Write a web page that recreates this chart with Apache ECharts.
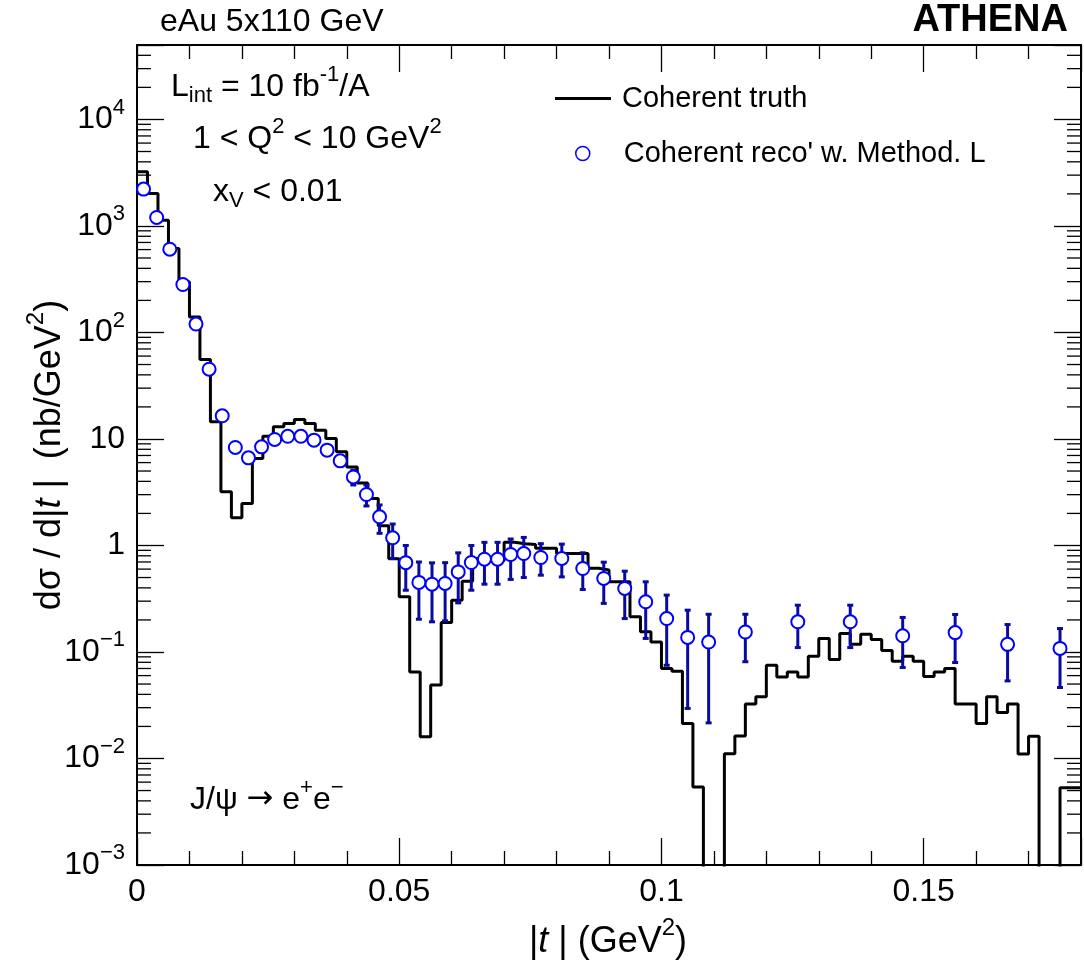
<!DOCTYPE html>
<html><head><meta charset="utf-8">
<script src="https://cdn.jsdelivr.net/npm/echarts@6/dist/echarts.min.js"></script>
<style>html,body{margin:0;padding:0;background:#fff}#c{width:1084px;height:965px}</style>
</head><body><div id="c"></div>
<script>
// ---------- data ----------
const tMin = 0, tMax = 0.18;
const yMin = 1e-3, yMax = 5e4;
const xTickInterval = 0.05;
const truthBinWidth = 0.002;   // truth histogram bins from t = 0
const truthValues = [
  3220, 2020, 1133, 615, 299, 140, 55.7, 14.5, 3.19, 1.82,
  2.48, 6.56, 10.6, 13.0, 14.0, 15.2, 14.0, 12.1, 10.1, 7.57,
  5.47, 3.87, 2.76, 1.53, 0.75, 0.33, 0.065, 0.016, 0.049, 0.189,
  0.306, 0.462, 0.755, 0.74, 0.72, 1.07, 1.04, 1.02, 0.94, 0.94,
  0.84, 0.84, 0.84, 0.61, 0.59, 0.456, 0.456, 0.214, 0.155, 0.124,
  0.070, 0.066, 0.0213, 0.0054, 0, 0, 0.0111, 0.0163, 0.0324, 0.0379,
  0.0752, 0.0583, 0.065, 0.0583, 0.0914, 0.134, 0.085, 0.149, 0.118, 0.147,
  0.131, 0.103, 0.082, 0.091, 0.082, 0.059, 0.065, 0.070, 0.0324, 0.0324,
  0.0213, 0.038, 0.027, 0.0324, 0.011, 0.0162, 0, 0, 0.0053, 0.0053
];
const recoT = [
  0.00125, 0.00375, 0.00625, 0.00875, 0.01125, 0.01375, 0.01625, 0.01875, 0.02125, 0.02375,
  0.02625, 0.02875, 0.03125, 0.03375, 0.03625, 0.03875, 0.04125, 0.04375, 0.04625, 0.04875,
  0.05125, 0.05375, 0.05625, 0.05875, 0.06125, 0.06375, 0.06625, 0.06875, 0.07125, 0.07375,
  0.077, 0.081, 0.085, 0.089, 0.093, 0.097, 0.101, 0.105, 0.109,
  0.116, 0.126, 0.136, 0.146, 0.156, 0.166, 0.176
];
const recoValues = [
  2218, 1202, 605, 282, 120, 45.2, 16.5, 8.32, 6.65, 8.43,
  9.89, 10.6, 10.6, 9.75, 7.85, 6.23, 4.40, 3.01, 1.86, 1.18,
  0.69, 0.45, 0.433, 0.44, 0.565, 0.692, 0.743, 0.743, 0.823, 0.84,
  0.771, 0.755, 0.608, 0.49, 0.395, 0.296, 0.206, 0.137, 0.124,
  0.154, 0.192, 0.192, 0.142, 0.152, 0.118, 0.108
];
const recoLow = [
  2150, 1160, 580, 270, 114, 42.5, 15.3, 7.5, 6.0, 7.8,
  9.3, 10.0, 10.0, 9.1, 7.2, 5.6, 3.7, 2.35, 1.3, 0.755,
  0.38, 0.203, 0.192, 0.196, 0.289, 0.38, 0.433, 0.433, 0.48, 0.50,
  0.526, 0.507, 0.386, 0.286, 0.206, 0.134, 0.075, 0.0295, 0.0216,
  0.081, 0.110, 0.110, 0.0715, 0.0797, 0.0535, 0.0464
];
const recoHigh = [
  2290, 1245, 630, 295, 126, 48, 17.7, 9.2, 7.3, 9.1,
  10.5, 11.2, 11.2, 10.4, 8.5, 6.9, 5.1, 3.7, 2.4, 1.59,
  1.0, 0.70, 0.687, 0.69, 0.853, 1.0, 1.07, 1.07, 1.15, 1.19,
  1.04, 1.03, 0.853, 0.697, 0.574, 0.456, 0.342, 0.247, 0.226,
  0.226, 0.275, 0.275, 0.211, 0.225, 0.181, 0.166
];
const truthName = 'Coherent truth';
const recoName = "Coherent reco' w. Method. L";

// ---------- styling / building ----------
const FF = "'Liberation Sans', Arial, Helvetica, sans-serif";
const BLUE = '#0000ff', ERR = '#0a0a9e';

// step-histogram points: left edge of every bin + final right edge; empty bins go below the axis floor
const floorVal = yMin * 1e-4;
const truthPoints = truthValues.map((v, i) => [i * truthBinWidth, v > 0 ? v : floorVal]);
truthPoints.push([truthValues.length * truthBinWidth, truthValues[truthValues.length - 1] || floorVal]);

const recoPoints = recoT.map((t, i) => [t, recoValues[i]]);
const errPoints = recoT.map((t, i) => [t, recoLow[i], recoHigh[i]]);

// log-axis minor tick positions (2..9 x 10^n)
const minorY = [];
for (let e = Math.round(Math.log10(yMin)); e <= Math.ceil(Math.log10(yMax)); e++) {
  for (let m = 2; m <= 9; m++) { const v = m * Math.pow(10, e); if (v > yMin && v < yMax) minorY.push([tMin, v]); }
}

function richSet(fs) {
  return {
    n: { fontSize: fs, fontFamily: FF, fill: '#000' },
    i: { fontSize: fs, fontFamily: FF, fill: '#000', fontStyle: 'italic' },
    a: { fontSize: fs, fontFamily: "'DejaVu Sans', sans-serif", fill: '#000' },
    sup: { fontSize: Math.round(fs * 0.68), fontFamily: FF, fill: '#000', padding: [0, 0, Math.round(fs * 0.78), 0] },
    sub: { fontSize: Math.round(fs * 0.68), fontFamily: FF, fill: '#000', padding: [Math.round(fs * 0.55), 0, 0, 0] }
  };
}
function txt(text, x, y, fs, opts) {
  opts = opts || {};
  return {
    type: 'text', x: x, y: y, rotation: opts.rotation || 0, silent: true,
    style: Object.assign({
      text: text, rich: richSet(fs), fontSize: fs, fontFamily: FF, fill: '#000',
      textAlign: opts.align || 'left', textVerticalAlign: 'middle'
    }, opts.style || {})
  };
}

const LBL = 32;
function yFmt(v) {
  const e = Math.log10(v), r = Math.round(e);
  if (Math.abs(e - r) > 1e-6) return '';
  if (r === 0) return '{b|1}';
  if (r === 1) return '{b|10}';
  return '{b|10}{s|' + (r < 0 ? '\u2212' + (-r) : r) + '}';
}

const axisCommonX = {
  type: 'value', min: tMin, max: tMax, interval: xTickInterval,
  axisLine: { show: true, onZero: false, lineStyle: { color: '#000', width: 2 } },
  axisTick: { show: true, inside: true, length: 27, lineStyle: { color: '#000', width: 1.3 } },
  minorTick: { show: true, splitNumber: 5, length: 14, lineStyle: { color: '#000', width: 1.3 } },
  splitLine: { show: false }, minorSplitLine: { show: false }
};
const axisCommonY = {
  type: 'log', logBase: 10, min: yMin, max: yMax,
  axisLine: { show: true, onZero: false, lineStyle: { color: '#000', width: 2 } },
  axisTick: { show: true, inside: true, length: 27, lineStyle: { color: '#000', width: 1.3 } },
  minorTick: { show: false }, splitLine: { show: false }, minorSplitLine: { show: false }
};

const chart = echarts.init(document.getElementById('c'), null, { renderer: 'canvas' });
chart.setOption({
  backgroundColor: '#fff',
  animation: false,
  grid: { left: 137, right: 3, top: 45, bottom: 100, containLabel: false },
  xAxis: [
    Object.assign({}, axisCommonX, {
      position: 'bottom',
      axisLabel: { show: true, margin: 11, fontSize: LBL, fontFamily: FF, color: '#000', showMaxLabel: false,
        formatter: v => (Math.abs(v / xTickInterval - Math.round(v / xTickInterval)) < 1e-6 ? String(+v.toFixed(3)) : '') }
    }),
    Object.assign({}, axisCommonX, { position: 'top', axisLabel: { show: false } })
  ],
  yAxis: [
    Object.assign({}, axisCommonY, {
      position: 'left',
      axisLabel: { show: true, margin: 12, formatter: yFmt,
        rich: { b: { fontSize: LBL, fontFamily: FF, color: '#000' },
                s: { fontSize: 22, fontFamily: FF, color: '#000', padding: [0, 0, 24, 0] } } }
    }),
    Object.assign({}, axisCommonY, { position: 'right', axisLabel: { show: false } })
  ],
  legend: [
    { data: [{ name: truthName, icon: 'rect' }], left: 550, top: 79, orient: 'vertical', itemWidth: 56, itemHeight: 3,
      selectedMode: false, textStyle: { fontSize: 29, fontFamily: FF, color: '#000', padding: [0, 0, 0, 6] } },
    { data: [{ name: recoName, itemStyle: { borderWidth: 1.5 } }], left: 570, top: 134, orient: 'vertical',
      itemWidth: 14, itemHeight: 14, selectedMode: false,
      textStyle: { fontSize: 29, fontFamily: FF, color: '#000', padding: [0, 0, 0, 29] } }
  ],
  graphic: [
    txt('{n|eAu 5x110 GeV}', 160, 22, 32),
    txt('ATHENA', 1068, 21, 38, { align: 'right', style: { fontWeight: 'bold' } }),
    txt('{n|L}{sub|int}{n| = 10 fb}{sup|-1}{n|/A}', 171, 87, 32),
    txt('{n|1 < Q}{sup|2}{n| < 10 GeV}{sup|2}', 193, 139, 32),
    txt('{n|x}{sub|V}{n| < 0.01}', 213, 192, 32),
    txt('{n|J/\u03c8 }{a|\u2192}{n| e}{sup|+}{n|e}{sup|\u2212}', 190, 800, 32),
    txt('{n||}{i|t}{n| | (GeV}{sup|2}{n|)}', 608, 942, 36, { align: 'center' }),
    txt('{n|d\u03c3 / d|}{i|t}{n| |  (nb/GeV}{sup|2}{n|)}', 50, 455, 36, { align: 'center', rotation: Math.PI / 2 })
  ],
  series: [
    {
      name: 'minorTicks', type: 'custom', silent: true, z: 1, xAxisIndex: 0, yAxisIndex: 0,
      data: minorY, encode: { x: 0, y: 1 },
      renderItem: function (params, api) {
        const p = api.coord([api.value(0), api.value(1)]);
        const cs = params.coordSys;
        const st = { stroke: '#000', lineWidth: 1.3 };
        return { type: 'group', children: [
          { type: 'line', shape: { x1: cs.x, y1: p[1], x2: cs.x + 14, y2: p[1] }, style: st },
          { type: 'line', shape: { x1: cs.x + cs.width - 14, y1: p[1], x2: cs.x + cs.width, y2: p[1] }, style: st }
        ] };
      }
    },
    {
      name: truthName, type: 'line', step: 'end', data: truthPoints, symbol: 'none', showSymbol: false,
      clip: true, z: 2, lineStyle: { color: '#000', width: 3 }, itemStyle: { color: '#000' }
    },
    {
      name: 'errors', type: 'custom', z: 3, data: errPoints, encode: { x: 0, y: [1, 2] }, clip: true,
      renderItem: function (params, api) {
        const x = api.value(0);
        const lo = api.coord([x, api.value(1)]), hi = api.coord([x, api.value(2)]);
        const st = { stroke: ERR, lineWidth: 3 };
        const c = 3;
        return { type: 'group', children: [
          { type: 'line', shape: { x1: lo[0], y1: lo[1], x2: hi[0], y2: hi[1] }, style: st },
          { type: 'line', shape: { x1: lo[0] - c, y1: lo[1], x2: lo[0] + c, y2: lo[1] }, style: st },
          { type: 'line', shape: { x1: hi[0] - c, y1: hi[1], x2: hi[0] + c, y2: hi[1] }, style: st }
        ] };
      }
    },
    {
      name: recoName, type: 'scatter', data: recoPoints, symbol: 'circle', symbolSize: 13, z: 4,
      itemStyle: { color: '#fff', borderColor: BLUE, borderWidth: 2, opacity: 1 }
    }
  ]
});
</script></body></html>
